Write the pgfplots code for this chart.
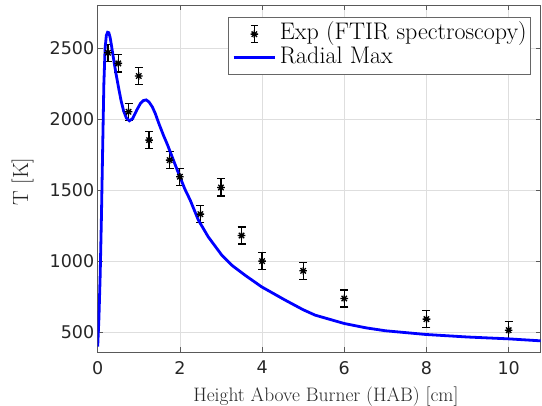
\documentclass[border=0pt]{standalone}
\usepackage{pgfplots}
\pgfplotsset{compat=1.18}
\usepackage{fontspec}
\newfontfamily\dejavu{DejaVu Sans}
\definecolor{axgray}{gray}{0.15}
\pgfdeclareplotmark{mstar}{%
 \pgfpathmoveto{\pgfqpoint{-\pgfplotmarksize}{0pt}}\pgfpathlineto{\pgfqpoint{\pgfplotmarksize}{0pt}}%
 \pgfpathmoveto{\pgfqpoint{0pt}{-\pgfplotmarksize}}\pgfpathlineto{\pgfqpoint{0pt}{\pgfplotmarksize}}%
 \pgfpathmoveto{\pgfqpoint{-0.707\pgfplotmarksize}{-0.707\pgfplotmarksize}}\pgfpathlineto{\pgfqpoint{0.707\pgfplotmarksize}{0.707\pgfplotmarksize}}%
 \pgfpathmoveto{\pgfqpoint{-0.707\pgfplotmarksize}{0.707\pgfplotmarksize}}\pgfpathlineto{\pgfqpoint{0.707\pgfplotmarksize}{-0.707\pgfplotmarksize}}%
 \pgfusepathqstroke}

\pgfplotstableread{
x T e
0.25 2469 60
0.50 2394 60
0.75 2053 60
1.00 2305 60
1.25 1854 60
1.75 1713 60
2.00 1596 60
2.50 1333 60
3.00 1521 60
3.50 1182 60
4.00 1002 60
5.00 934 60
6.00 739 60
8.00 594 60
10.00 516 60
}\expdata

\pgfplotstableread{
x T
0.00 400
0.03 600
0.06 900
0.09 1300
0.12 1780
0.15 2250
0.18 2500
0.21 2590
0.24 2613
0.27 2610
0.30 2580
0.33 2530
0.37 2455
0.44 2330
0.51 2220
0.57 2130
0.63 2060
0.70 2008
0.77 1990
0.85 2005
0.95 2065
1.04 2112
1.11 2132
1.18 2137
1.25 2122
1.33 2087
1.40 2042
1.50 1962
1.60 1888
1.70 1820
1.80 1745
1.90 1670
2.00 1596
2.12 1510
2.25 1432
2.45 1291
2.69 1173
3.02 1044
3.26 974
3.60 900
3.99 821
4.56 728
5.00 660
5.29 622
6.00 563
6.54 532
7.00 512
7.98 486
9.00 468
10.00 455
10.78 441
}\simdata

\begin{document}
\begin{tikzpicture}
\useasboundingbox (-97.7pt,-53.5pt) rectangle (444.3pt,352.5pt);
\begin{axis}[
 at={(0pt,0pt)}, anchor=south west,
 scale only axis, width=443pt, height=347.5pt,
 xmin=0, xmax=10.78, ymin=359, ymax=2805,
 xtick={0,2,4,6,8,10}, ytick={500,1000,1500,2000,2500},
 grid=major, major grid style={black!13, line width=0.6pt},
 axis line style={black!65, line width=0.7pt},
 tick style={black!65, line width=0.7pt}, major tick length=5pt,
 tick label style={font=\dejavu\fontsize{17.5}{20}\selectfont, text=axgray},
 xticklabel style={yshift=-5pt},
 /pgf/number format/assume math mode=true,
 /pgf/number format/1000 sep={},
 xlabel={Height Above Burner (HAB) [cm]},
 ylabel={T [K]},
 every axis x label/.style={at={(axis description cs:0.515,0)}, anchor=base, yshift=-49.2pt, font=\fontsize{19.5}{22}\selectfont, text=axgray},
 every axis y label/.style={at={(axis description cs:-0.1693,0.4915)}, rotate=90, anchor=center, font=\fontsize{22}{24}\selectfont, text=axgray},
 legend style={at={(1,1)}, anchor=north east, xshift=-9.7pt, yshift=-12.3pt,
   draw=black!60, fill=white, line width=0.6pt, font=\fontsize{24}{26}\selectfont,
   inner xsep=4pt, inner ysep=4.8pt, row sep=0pt,
   nodes={inner sep=0pt, text height=17.5pt, text depth=6pt},
   /tikz/every odd column/.append style={column sep=3.3pt}},
 legend cell align=left,
]
\addplot[only marks, mark=mstar, mark size=3.8pt, black, line width=1.3pt,
  error bars/.cd, y dir=both, y explicit,
  error bar style={black, line width=1.2pt},
  error mark options={rotate=90, mark size=4pt, black, line width=1.2pt},
  /pgfplots/legend image code/.code={%
    \path (0pt,0pt) (41.7pt,0pt);
    \draw[black, line width=1.2pt] (20.8pt,-8.5pt)--(20.8pt,8.5pt) (17.3pt,-8.5pt)--(24.3pt,-8.5pt) (17.3pt,8.5pt)--(24.3pt,8.5pt);
    \draw[black, line width=1.3pt] plot[mark=mstar, mark size=3.8pt] coordinates {(20.8pt,0pt)};
  },
 ] table[x=x, y=T, y error=e] {\expdata};
\addlegendentry{Exp (FTIR spectroscopy)}
\addplot[blue, line width=2.8pt,
  legend image code/.code={\draw[blue, line width=2.8pt] (0pt,0pt)--(41.7pt,0pt);}]
  table[x=x, y=T] {\simdata};
\addlegendentry{Radial Max}
\end{axis}
\end{tikzpicture}
\end{document}
